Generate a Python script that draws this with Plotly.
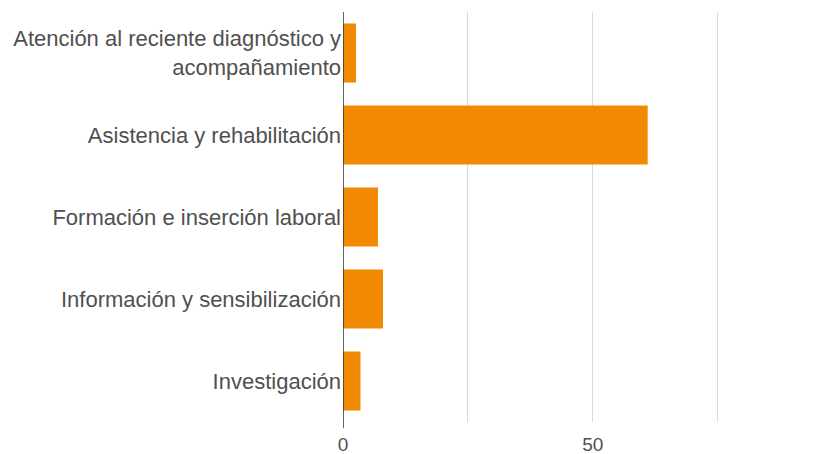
import plotly.graph_objects as go

categories = [
    "Atención al reciente diagnóstico y<br>acompañamiento",
    "Asistencia y rehabilitación",
    "Formación e inserción laboral",
    "Información y sensibilización",
    "Investigación",
]
values = [2.6, 61, 7, 8, 3.5]
tick_vals = [0, 25, 50, 75]
tick_text = ["0", "", "50", ""]

fig = go.Figure(go.Bar(
    x=values, y=categories, orientation="h",
    marker=dict(color="#F18A00", line=dict(width=0)),
))
fig.update_layout(
    width=827, height=446,
    margin=dict(l=335, r=0, t=4, b=32),
    paper_bgcolor="white", plot_bgcolor="white",
    bargap=0.28,
    showlegend=False,
    font=dict(family="Arial, Liberation Sans, sans-serif", size=22, color="#505050"),
)
fig.update_xaxes(
    range=[0, 98.5], tickvals=tick_vals, ticktext=tick_text,
    showgrid=True, gridcolor="#d9d9d9", gridwidth=1,
    zeroline=False, showline=False, ticks="", automargin=False,
    ticklabelstandoff=9,
    tickfont=dict(size=19, color="#505050"),
)
fig.update_yaxes(
    autorange="reversed", ticks="", showgrid=False, automargin=False,
    ticklabelstandoff=1,
    tickfont=dict(size=22, color="#505050"),
)
# baseline at zero
fig.add_shape(type="line", xref="x", yref="paper", x0=0, x1=0, y0=-0.015, y1=1,
              line=dict(color="#333", width=1.5))
fig.write_html("out.html")
